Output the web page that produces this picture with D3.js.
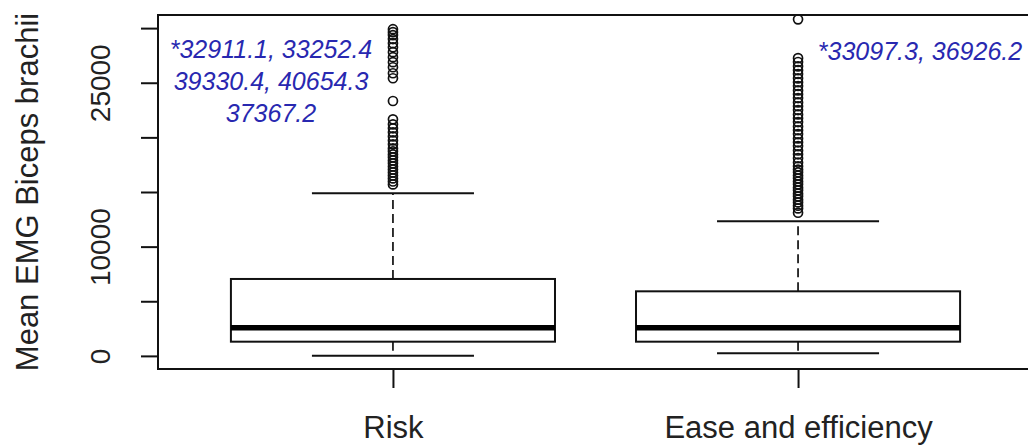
<!DOCTYPE html>
<html>
<head>
<meta charset="utf-8">
<script src="https://cdn.jsdelivr.net/npm/d3@7"></script>
<style>
  html, body { margin: 0; padding: 0; background: #fff; }
  svg { display: block; }
  text { font-family: "Liberation Sans", Arial, sans-serif; }
</style>
</head>
<body>
<svg id="chart" width="1028" height="448"></svg>
<script>
// ---- data ----
const categories = ["Risk", "Ease and efficiency"];
const whiskerLow = [20, 240];
const q1 = [1300, 1300];
const median = [2580, 2580];
const q3 = [7040, 5910];
const whiskerHigh = [14880, 12320];
const outliersRisk = [29900, 29630, 29360, 29000, 28620, 28250, 27800, 27340, 26880, 26420, 25870, 25410,
  23330, 21650, 21190, 20830, 20460, 20090, 19720, 19360, 18990, 18720, 18440, 18170, 17890, 17620,
  17340, 17060, 16790, 16510, 16240, 15960, 15690];
const outliersEase = [30800, 27250, 26900, 26500, 26150, 25800, 25400, 25050, 24700, 24300, 23950, 23600,
  23200, 22850, 22500, 22100, 21750, 21400, 21000, 20650, 20300, 19900, 19550, 19200, 18800, 18450,
  18100, 17700, 17350, 17050, 16800, 16500, 16250, 15950, 15700, 15400, 15150, 14850, 14600, 14300,
  14050, 13750, 13500, 13100];
const annotRisk = ["*32911.1, 33252.4", "39330.4, 40654.3", "37367.2"];
const annotEase = ["*33097.3, 36926.2"];
const yTicks = [0, 5000, 10000, 15000, 20000, 25000, 30000];
const yTickLabels = ["0", "", "10000", "", "", "25000", ""];
const yTitle = "Mean EMG Biceps brachii";

// ---- layout ----
const pL = 158, pR = 1033, pT = 15, pB = 369;
const svg = d3.select("#chart");
const x = d3.scaleLinear().domain([0.42, 2.58]).range([pL, pR]);
const y = d3.scaleLinear().domain([-1200, 31200]).range([pB, pT]);
const ink = "#111";
const blue = "#2828b0";

svg.append("defs").append("clipPath").attr("id", "plotclip")
  .append("rect").attr("x", pL).attr("y", pT).attr("width", pR - pL).attr("height", pB - pT);

const plot = svg.append("g").attr("clip-path", "url(#plotclip)");

const groups = categories.map((c, i) => ({
  c, pos: i + 1, lo: whiskerLow[i], q1: q1[i], med: median[i], q3: q3[i], hi: whiskerHigh[i],
  out: i === 0 ? outliersRisk : outliersEase
}));

const boxW = 0.4, capW = 0.2;
groups.forEach(g => {
  const gg = plot.append("g");
  gg.append("line").attr("x1", x(g.pos)).attr("x2", x(g.pos)).attr("y1", y(g.q3)).attr("y2", y(g.hi))
    .attr("stroke", ink).attr("stroke-width", 1.7).attr("stroke-dasharray", "9,5");
  gg.append("line").attr("x1", x(g.pos)).attr("x2", x(g.pos)).attr("y1", y(g.q1)).attr("y2", y(g.lo))
    .attr("stroke", ink).attr("stroke-width", 1.7).attr("stroke-dasharray", "9,5");
  [g.lo, g.hi].forEach(v => {
    gg.append("line").attr("x1", x(g.pos - capW)).attr("x2", x(g.pos + capW)).attr("y1", y(v)).attr("y2", y(v))
      .attr("stroke", ink).attr("stroke-width", 2);
  });
  gg.append("rect").attr("x", x(g.pos - boxW)).attr("width", x(g.pos + boxW) - x(g.pos - boxW))
    .attr("y", y(g.q3)).attr("height", y(g.q1) - y(g.q3))
    .attr("fill", "#fff").attr("stroke", ink).attr("stroke-width", 2);
  gg.append("line").attr("x1", x(g.pos - boxW)).attr("x2", x(g.pos + boxW)).attr("y1", y(g.med)).attr("y2", y(g.med))
    .attr("stroke", "#000").attr("stroke-width", 5.5);
  gg.selectAll("circle.o").data(g.out).join("circle").attr("class", "o")
    .attr("cx", x(g.pos)).attr("cy", d => y(d)).attr("r", 4.5)
    .attr("fill", "none").attr("stroke", ink).attr("stroke-width", 1.7);
});

svg.append("rect").attr("x", pL).attr("y", pT).attr("width", pR - pL).attr("height", pB - pT)
  .attr("fill", "none").attr("stroke", ink).attr("stroke-width", 2);

const yAxis = d3.axisLeft(y).tickValues(yTicks).tickSize(17).tickPadding(0)
  .tickFormat((d, i) => yTickLabels[i]);
const ya = svg.append("g").attr("transform", `translate(${pL},0)`).call(yAxis);
ya.select(".domain").attr("d", `M0,${y(yTicks[0])}V${y(yTicks[yTicks.length - 1])}`)
  .attr("stroke", ink).attr("stroke-width", 2);
ya.selectAll(".tick line").attr("stroke", ink).attr("stroke-width", 2);
ya.selectAll(".tick text")
  .attr("x", null).attr("dy", null)
  .attr("transform", "translate(-48,0) rotate(-90)")
  .attr("text-anchor", "middle")
  .attr("fill", "#222").style("font-size", "28px");

const xAxis = d3.axisBottom(x).tickValues([1, 2]).tickSize(19).tickPadding(0)
  .tickFormat((d, i) => categories[i]);
const xa = svg.append("g").attr("transform", `translate(0,${pB})`).call(xAxis);
xa.select(".domain").remove();
xa.selectAll(".tick line").attr("stroke", ink).attr("stroke-width", 2);
xa.selectAll(".tick text").attr("y", 69).attr("dy", null)
  .attr("fill", "#222").style("font-size", "31px");

svg.append("text").attr("transform", `translate(38,${(pT + pB) / 2}) rotate(-90)`)
  .attr("text-anchor", "middle").attr("fill", "#222").style("font-size", "31px").text(yTitle);

svg.append("g").selectAll("text").data(annotRisk).join("text")
  .attr("x", 271).attr("y", (d, i) => 58 + i * 32)
  .attr("text-anchor", "middle").attr("fill", blue)
  .style("font-size", "25px").style("font-style", "italic").text(d => d);
svg.append("g").selectAll("text").data(annotEase).join("text")
  .attr("x", 920).attr("y", 60)
  .attr("text-anchor", "middle").attr("fill", blue)
  .style("font-size", "25px").style("font-style", "italic").text(d => d);
</script>
</body>
</html>
